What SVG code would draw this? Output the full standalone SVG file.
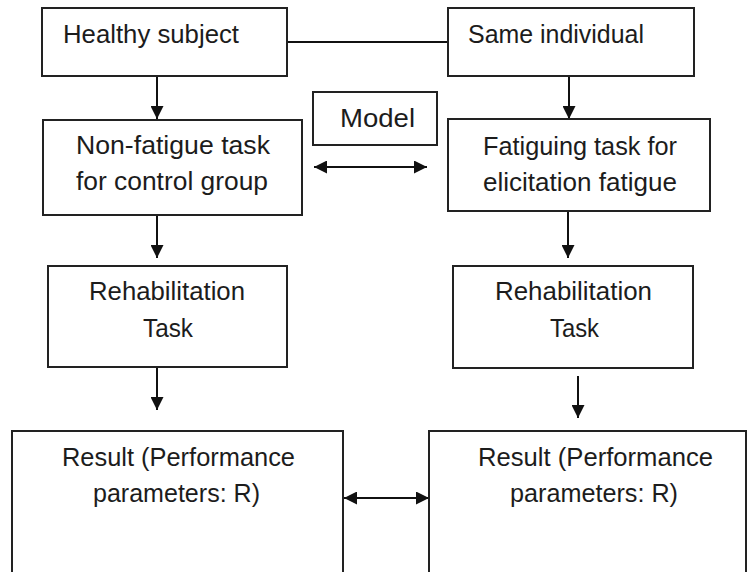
<svg xmlns="http://www.w3.org/2000/svg" width="748" height="572" viewBox="0 0 748 572">
  <style>
    .box { fill: #ffffff; stroke: #222222; stroke-width: 2; }
    .t { font-family: "Liberation Sans", Arial, sans-serif; font-size: 25px; fill: #1c1c1c; }
    .c { stroke: #111111; stroke-width: 2; fill: none; }
  </style>
  <defs>
    <marker id="ah" viewBox="0 0 13 13" refX="13" refY="6.5" markerWidth="13" markerHeight="13" markerUnits="userSpaceOnUse" orient="auto-start-reverse">
      <path d="M0,0 L13,6.5 L0,13 z" fill="#111111"/>
    </marker>
  </defs>
  <rect width="748" height="572" fill="#ffffff"/>

  <g id="connectors">
    <line class="c" x1="287" y1="42" x2="448" y2="42"/>
    <line class="c" x1="157" y1="76" x2="157" y2="119" marker-end="url(#ah)"/>
    <line class="c" x1="569" y1="76" x2="569" y2="119" marker-end="url(#ah)"/>
    <line class="c" x1="314" y1="167" x2="427" y2="167" marker-start="url(#ah)" marker-end="url(#ah)"/>
    <line class="c" x1="157" y1="215" x2="157" y2="258" marker-end="url(#ah)"/>
    <line class="c" x1="568" y1="212" x2="568" y2="258" marker-end="url(#ah)"/>
    <line class="c" x1="157" y1="367" x2="157" y2="410" marker-end="url(#ah)"/>
    <line class="c" x1="578" y1="376" x2="578" y2="418" marker-end="url(#ah)"/>
    <line class="c" x1="344" y1="498" x2="429" y2="498" marker-start="url(#ah)" marker-end="url(#ah)"/>
  </g>

  <g id="healthy">
    <rect class="box" x="42" y="8" width="245" height="68"/>
    <text class="t" x="63" y="43" textLength="176" lengthAdjust="spacingAndGlyphs">Healthy subject</text>
  </g>
  <g id="same">
    <rect class="box" x="448" y="8" width="246" height="68"/>
    <text class="t" x="468" y="43" textLength="176" lengthAdjust="spacingAndGlyphs">Same individual</text>
  </g>
  <g id="model">
    <rect class="box" x="313" y="92" width="124" height="53"/>
    <text class="t" x="340" y="127" textLength="75" lengthAdjust="spacingAndGlyphs">Model</text>
  </g>
  <g id="nonfatigue">
    <rect class="box" x="43" y="120" width="259" height="95"/>
    <text class="t" x="76" y="154" textLength="194" lengthAdjust="spacingAndGlyphs">Non-fatigue task</text>
    <text class="t" x="76" y="190" textLength="192" lengthAdjust="spacingAndGlyphs">for control group</text>
  </g>
  <g id="fatiguing">
    <rect class="box" x="448" y="119" width="262" height="92"/>
    <text class="t" x="483" y="155" textLength="194" lengthAdjust="spacingAndGlyphs">Fatiguing task for</text>
    <text class="t" x="483" y="191" textLength="194" lengthAdjust="spacingAndGlyphs">elicitation fatigue</text>
  </g>
  <g id="rehab-left">
    <rect class="box" x="48" y="266" width="239" height="101"/>
    <text class="t" x="89" y="300" textLength="156" lengthAdjust="spacingAndGlyphs">Rehabilitation</text>
    <text class="t" x="143" y="337" textLength="50" lengthAdjust="spacingAndGlyphs">Task</text>
  </g>
  <g id="rehab-right">
    <rect class="box" x="453" y="266" width="240" height="102"/>
    <text class="t" x="495" y="300" textLength="157" lengthAdjust="spacingAndGlyphs">Rehabilitation</text>
    <text class="t" x="550" y="337" textLength="49" lengthAdjust="spacingAndGlyphs">Task</text>
  </g>
  <g id="result-left">
    <rect class="box" x="12" y="431" width="331" height="150"/>
    <text class="t" x="62" y="466" textLength="233" lengthAdjust="spacingAndGlyphs">Result (Performance</text>
    <text class="t" x="93" y="502" textLength="167" lengthAdjust="spacingAndGlyphs">parameters: R)</text>
  </g>
  <g id="result-right">
    <rect class="box" x="429" y="431" width="317" height="150"/>
    <text class="t" x="478" y="466" textLength="235" lengthAdjust="spacingAndGlyphs">Result (Performance</text>
    <text class="t" x="510" y="502" textLength="168" lengthAdjust="spacingAndGlyphs">parameters: R)</text>
  </g>
</svg>
